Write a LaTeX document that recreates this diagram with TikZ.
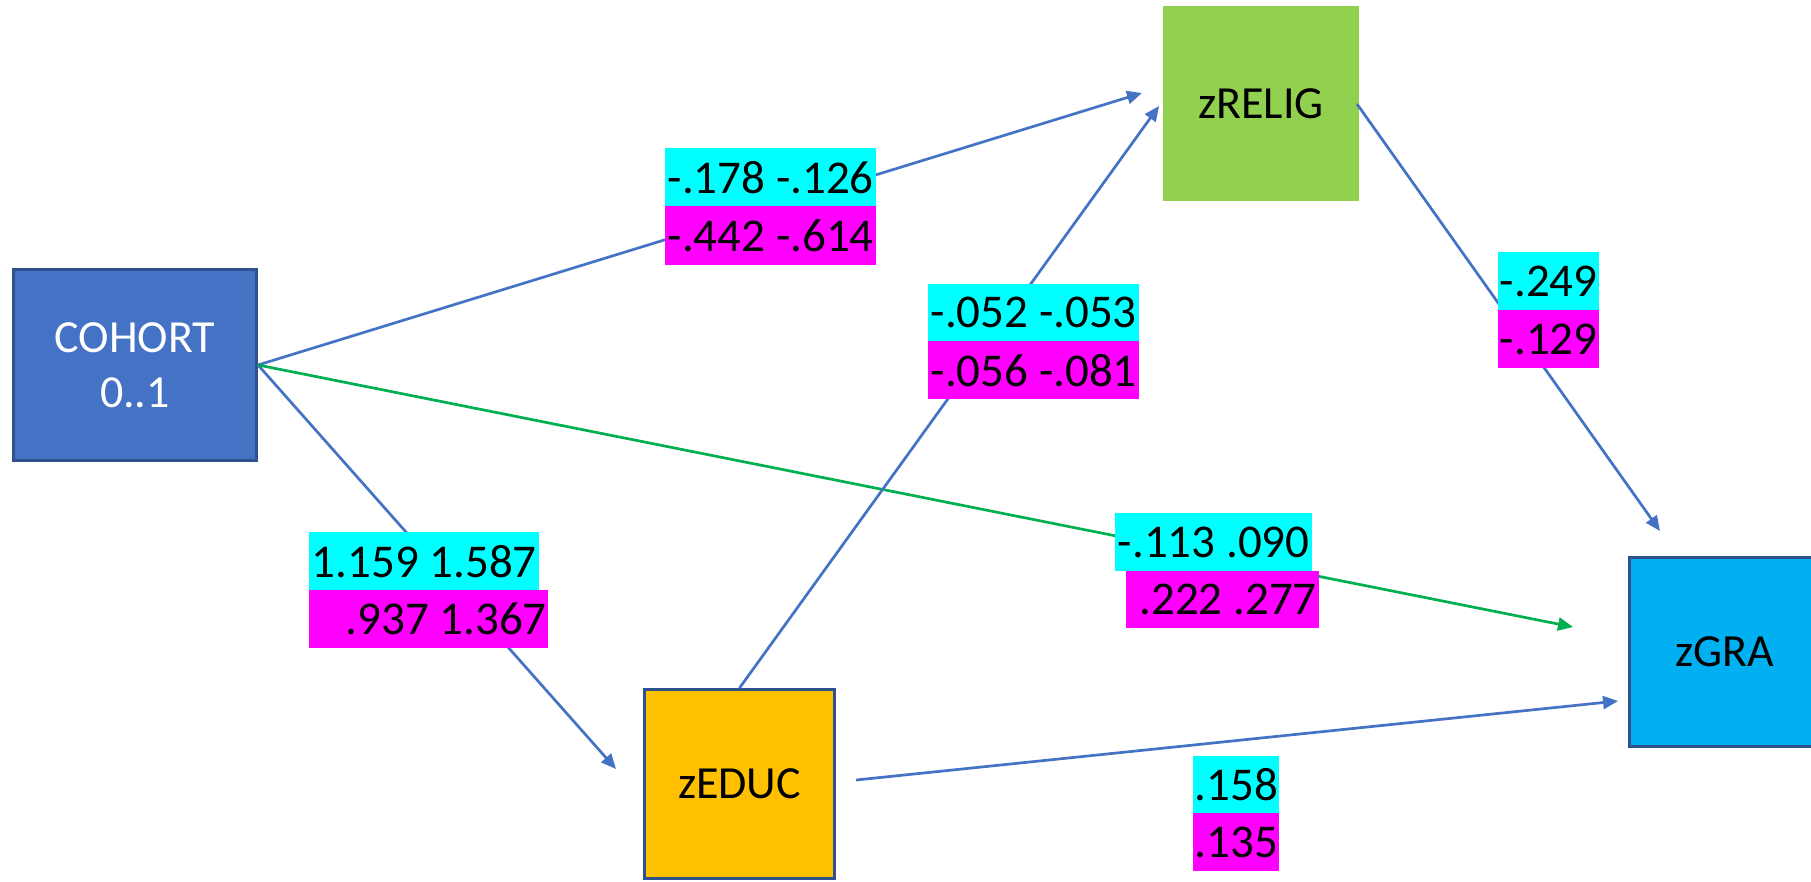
\documentclass[tikz,border=0pt]{standalone}
\usepackage{fontspec}
\setmainfont{Carlito}
\usetikzlibrary{arrows.meta}
\definecolor{cblue}{HTML}{4472C4}
\definecolor{cborder}{HTML}{2F528F}
\definecolor{cgreen}{HTML}{92D050}
\definecolor{cyellow}{HTML}{FFC000}
\definecolor{csky}{HTML}{00B0F0}
\definecolor{lgreen}{HTML}{00B050}
\definecolor{lcyan}{HTML}{00FFFF}
\definecolor{lmag}{HTML}{FF00FF}
\begin{document}
\begin{tikzpicture}[x=1pt,y=-1pt,
  box/.style={draw=cborder, line width=3pt, inner sep=0pt, align=center,
    font=\fontsize{46}{55}\selectfont},
  conn/.style={draw=cblue, line width=2.7pt, -{Triangle[length=15pt,width=13pt]}},
  gconn/.style={conn, draw=lgreen, fill=lgreen},
  lab/.style={inner sep=0pt, anchor=north west, text=black,
    font=\fontsize{47}{50}\selectfont},
  cy/.style={lab, fill=lcyan, minimum height=#1},
  mg/.style={lab, fill=lmag, minimum height=#1}]
\useasboundingbox (0,0) rectangle (1811,881);
\fill[white] (0,0) rectangle (1811,881);

% boxes
\node[box, fill=cblue, text=white, minimum width=243pt, minimum height=191pt] (cohort) at (135,365) {COHORT\\0..1};
\node[box, draw=none, fill=cgreen, minimum width=196pt, minimum height=195pt] (relig) at (1261,103.5) {zRELIG};
\node[box, fill=cyellow, minimum width=190pt, minimum height=189pt] (educ) at (739.5,784) {zEDUC};
\node[box, fill=csky, minimum width=191pt, minimum height=189pt] (gra) at (1725,652) {zGRA};

% connector ends
\coordinate (ta) at (1142,93);
\coordinate (tb) at (616,769);
\coordinate (tc) at (1573,627);
\coordinate (td) at (1159,106);
\coordinate (se) at (1357,104);
\coordinate (te) at (1660,531);
\coordinate (sf) at (856,780);
\coordinate (tf) at (1618,701);

\draw[conn] (cohort.east) -- (ta);
\draw[conn] (cohort.east) -- (tb);
\draw[gconn] (cohort.east) -- (tc);
\draw[conn] (educ.north) -- (td);
\draw[conn] (se) -- (te);
\draw[conn] (sf) -- (tf);

% labels
\node[cy=58pt, minimum width=211pt] (l1c) at (665,148) {-.178 -.126};
\node[mg=59pt, minimum width=211pt] (l1m) at (665,206) {-.442 -.614};

\node[cy=58pt, minimum width=230pt] (l2c) at (309,532) {1.159 1.587};
\node[mg=58pt, minimum width=239pt] (l2m) at (309,590) {\makebox[236pt][r]{.937 1.367}};

\node[cy=58pt, minimum width=197pt] (l3c) at (1115,513) {-.113 .090};
\node[mg=57pt, minimum width=193pt] (l3m) at (1126,571) {\makebox[188pt][r]{.222 .277}};

\node[cy=58pt, minimum width=101pt] (l4c) at (1498,252) {-.249};
\node[mg=58pt, minimum width=101pt] (l4m) at (1498,310) {-.129};

\node[cy=57pt, minimum width=211pt] (l5c) at (928,284) {-.052 -.053};
\node[mg=58pt, minimum width=211pt] (l5m) at (928,341) {-.056 -.081};

\node[cy=57pt, minimum width=86pt] (l6c) at (1193,756) {.158};
\node[mg=58pt, minimum width=86pt] (l6m) at (1193,813) {.135};
\end{tikzpicture}
\end{document}
